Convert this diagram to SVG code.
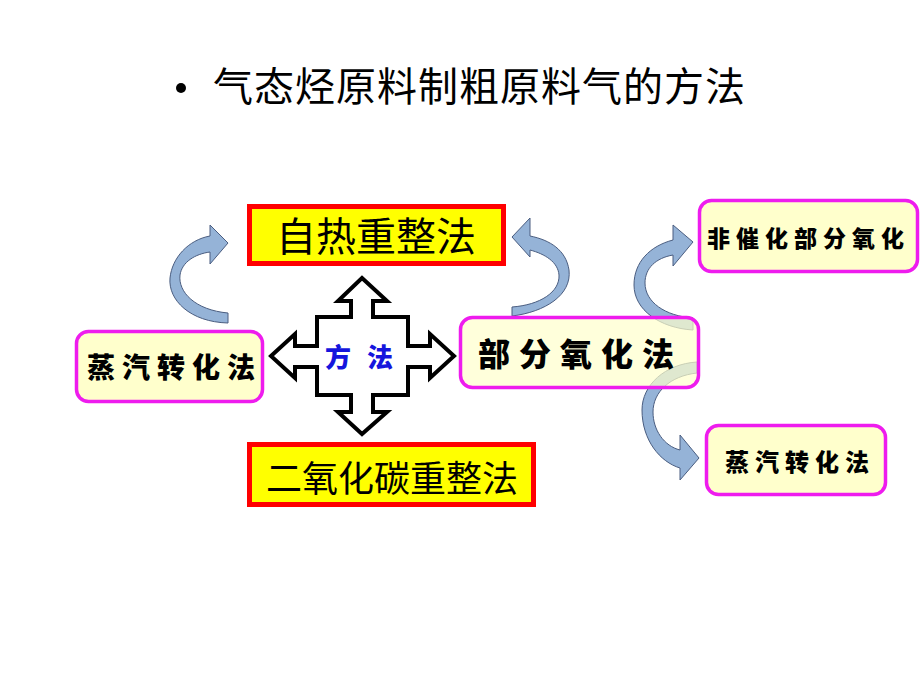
<svg xmlns="http://www.w3.org/2000/svg" width="920" height="690" viewBox="0 0 920 690">
<style>
.cjk{font-family:"Noto Sans CJK SC","Noto Sans CJK TC",sans-serif;}
.red{fill:#FFFF00;stroke:#FF0000;stroke-width:5;}
.mag{fill:#FFFFCC;stroke:#EE1CEE;stroke-width:3.5;}
.bold{font-weight:900;fill:#000;}
.curve{fill:#95B3D7;stroke:#4A5D80;stroke-width:1;}
</style>
<rect width="920" height="690" fill="#fff"/>
<g id="title">
<circle cx="181" cy="88" r="5" fill="#000"/>
<text class="cjk" x="213" y="101" font-size="40" letter-spacing="1" fill="#000">气态烃原料制粗原料气的方法</text>
</g>
<g id="connectors">
<path class="curve" d="M228,323 C190,322 168,300 170,278 C172,258 188,240 210,236 L210,225 L228,243 L210,264 L210,252 C195,254 182,262 180,275 C178,292 195,310 228,313 Z"/>
<path class="curve" d="M512,316 C545,312 572,295 569,270 C566,250 550,240 530,236 L530,218 L512,237 L530,257 L530,250 C545,254 558,262 559,275 C560,292 540,305 512,307 Z"/>
<path class="curve" d="M693,330 C660,328 634,310 634,285 C634,262 650,246 673,240 L673,225 L693,242 L673,266 L673,255 C656,258 645,268 645,283 C645,302 665,316 693,318 Z"/>
<path class="curve" d="M697,362 C665,364 642,385 642,410 C642,440 660,462 680,468 L680,480 L699,458 L680,435 L680,450 C664,446 653,430 653,412 C653,392 670,376 697,373 Z"/>
</g>
<g id="autothermal">
<rect class="red" x="249.5" y="206.5" width="254" height="57"/>
<text class="cjk" x="276" y="251" font-size="40" fill="#000">自热重整法</text>
</g>
<g id="co2">
<rect class="red" x="249.5" y="444.5" width="284" height="60"/>
<text class="cjk" x="266" y="492" font-size="36" fill="#000">二氧化碳重整法</text>
</g>
<g id="steam-left">
<rect class="mag" x="76.5" y="331.5" width="186" height="70" rx="12"/>
<text class="cjk bold" x="87" y="378" font-size="28" letter-spacing="7">蒸汽转化法</text>
</g>
<g id="method">
<path d="M362,278 L387,301 L373,301 L373,317 L408,317 L408,346 L430,346 L430,334 L454,356 L430,378 L430,367 L408,367 L408,395 L373,395 L373,412 L387,412 L362,434 L338,412 L351,412 L351,395 L317,395 L317,367 L295,367 L295,378 L271,356 L295,334 L295,346 L317,346 L317,317 L351,317 L351,301 L338,301 Z" fill="#fff" stroke="#000" stroke-width="4"/>
<text class="cjk" x="325" y="367" font-size="26" font-weight="900" letter-spacing="16" fill="#1515DD">方法</text>
</g>
<g id="partial-ox">
<rect class="mag" x="460.5" y="317.5" width="238" height="70" rx="12" fill-opacity="0.7"/>
<text class="cjk bold" x="478" y="366" font-size="32" letter-spacing="9">部分氧化法</text>
</g>
<g id="noncat">
<rect class="mag" x="699.5" y="200.5" width="218" height="71" rx="12"/>
<text class="cjk bold" x="707" y="247" font-size="23" letter-spacing="6">非催化部分氧化</text>
</g>
<g id="steam-right">
<rect class="mag" x="706.5" y="425.5" width="179" height="69" rx="12"/>
<text class="cjk bold" x="725" y="471" font-size="24" letter-spacing="6">蒸汽转化法</text>
</g>
</svg>
